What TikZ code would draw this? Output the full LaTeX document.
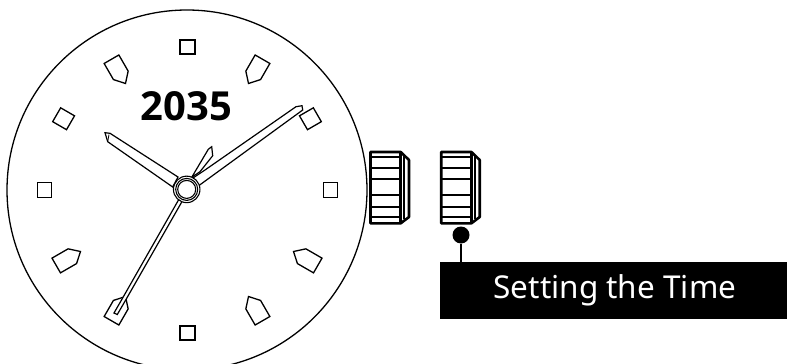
\documentclass[tikz,border=0pt]{standalone}
\usepackage{fontspec}
\setmainfont{Noto Sans}
\newfontfamily\yearfont{Open Sans}
\usetikzlibrary{positioning}

\begin{document}
\begin{tikzpicture}[
    x=1pt, y=-1pt,
    outline/.style={draw, line width=1.3pt, line join=miter},
    hand/.style={outline, fill=white, line width=1.2pt},
    ring/.style={circle, draw, line width=1.1pt, inner sep=0pt},
    crownline/.style={draw, line width=2pt},
    crownedge/.style={draw, line width=2.6pt, line join=round},
    pin/.style={circle, fill=black, inner sep=0pt, minimum size=17pt},
    banner/.style={fill=black, text=white, inner sep=0pt, minimum width=347pt, minimum height=57pt, font=\fontsize{31.5}{38}\selectfont},
    pinline/.style={line width=2.6pt}
  ]
    \useasboundingbox (0,0) rectangle (787,364);
    \begin{scope}
      \clip (0,0) rectangle (787,364);
      \node[circle, outline, minimum size=360pt, inner sep=0pt] (dial) at (187,190) {};
    \end{scope}

    \foreach \hour in {0,3,6,9}
      \draw[outline, shift={(187.5,190)}, rotate=-30*\hour] (-7.5,-136) rectangle (7.5,-150);
    \foreach \hour in {2,10}
      \draw[outline, shift={(187,190)}, rotate=-30*\hour] (-8,-134.5) rectangle (8,-150.5);
    \foreach \hour in {1,4,5,7,8,11}
      \draw[outline, shift={(187,190)}, rotate=-30*\hour] (-8.5,-151) -- (8.5,-151) -- (8.5,-132.4) -- (0,-123) -- (-8.5,-132.4) -- cycle;

    \node[font=\yearfont\bfseries\fontsize{40}{46}\selectfont] (year) at (186.5,106) {2035};

    \draw[hand] (105,132.7) -- (110,133.3) -- (178,177) -- (172.7,187) -- (107.7,141.7) -- cycle;
    \draw[line width=.8pt] (109,134.5) -- (107.7,141.7);
    \draw[hand] (296,106.7) -- (302,105.7) -- (302.7,110) -- (198.3,186) -- (190,180) -- (205,170) -- cycle;
    \draw[hand] (191.7,177.3) -- (208.3,149.3) -- (211.7,146.7) -- (212.7,155.7) -- (200,171.7) -- cycle;
    \draw[hand] (178.5,200) -- (121.5,300) -- (114,313) -- (117.3,314.5) -- (125.7,300) -- (182.9,200) -- cycle;

    \node[ring, fill=white, minimum size=26.5pt] (hub) at (186.7,189.4) {};
    \node[ring, minimum size=22pt] (hubmiddle) at (186.7,189.4) {};
    \node[ring, minimum size=18pt] (hubinner) at (186.7,189.4) {};

    \foreach \dx in {0,70.7} {
      \begin{scope}[xshift=\dx]
        \draw[crownedge] (370.5,152) -- (400.7,152) -- (409,160) -- (409,217) -- (400.7,223.3) -- (370.5,223.3) -- cycle;
        \draw[crownedge] (400.7,152) -- (400.7,223.3);
        \draw[crownline] (404,156) -- (404,219);
        \foreach \rowy in {157.3,168.3,179.3,195,206.7,217.3}
          \draw[crownline] (370.5,\rowy) -- (400.7,\rowy);
      \end{scope}
    }

    \node[pin] (knob) at (461,235) {};
    \node[banner] (timelabel) at (613.5,290.5) {\raisebox{-1pt}{\hspace{3pt}Setting the Time}};
    \draw[pinline] (knob) -- (knob |- timelabel.north);
  \end{tikzpicture}
\end{document}
